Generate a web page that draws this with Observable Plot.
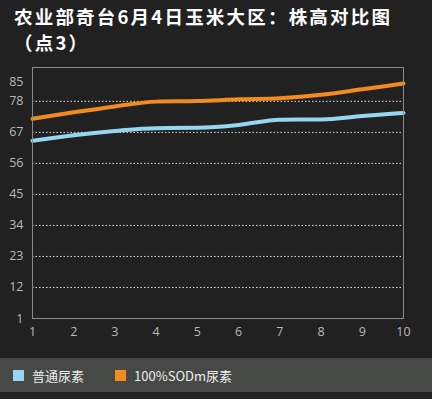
<!DOCTYPE html>
<html><head><meta charset="utf-8">
<script src="https://cdn.jsdelivr.net/npm/d3@7"></script>
<script src="https://cdn.jsdelivr.net/npm/@observablehq/plot@0.6"></script>
<style>
html,body{margin:0;padding:0;background:#212121;width:432px;height:399px;overflow:hidden;}
#title{height:55px;box-sizing:border-box;padding:4px 0 0 14px;color:#fff;font:bold 18.5px/27px "Noto Sans CJK SC",sans-serif;letter-spacing:2.2px;}
#title div{height:24px;line-height:24px;}
#legend{height:34px;background:#464946;display:flex;align-items:center;font:13px "Noto Sans CJK SC",sans-serif;color:#eee;}
.sw{display:inline-block;width:11px;height:11px;margin:0 8px 0 0;}
.item{display:flex;align-items:center;}
svg{display:block;}
</style></head>
<body>
<div id="title"><div>农业部奇台6月4日玉米大区：株高对比图</div><div style="margin-top:2px">（点3）</div></div>
<div id="chart"></div>
<div id="legend"></div>
<script>
const xs = [1,2,3,4,5,6,7,8,9,10];
const seriesNames = ["普通尿素","100%SODm尿素"];
const seriesColors = ["#95d6f0","#f28c1e"];
const blueVals = [64,66,67.5,68.5,68.6,69.6,71.5,71.6,72.8,73.9];
const orangeVals = [71.8,74.1,76.2,77.9,78.1,78.7,79.1,80.3,82.3,84.3];
const yTicks = [1,12,23,34,45,56,67,78,85];
const gridTicks = [12,23,34,45,56,67,78];

const data = [];
xs.forEach((x,i)=>{
  data.push({x, y: blueVals[i], s: seriesNames[0]});
  data.push({x, y: orangeVals[i], s: seriesNames[1]});
});

const plot = Plot.plot({
  width: 432, height: 303,
  marginLeft: 32, marginRight: 29, marginTop: 12, marginBottom: 40,
  style: {background: "#212121", color: "#b8b8b8", fontFamily: "'Open Sans', sans-serif", fontSize: "12.5px"},
  x: {domain: [1,10], ticks: xs, tickFormat: d => d, tickSize: 0, tickPadding: 9, label: null},
  y: {domain: [1,90], ticks: yTicks, tickFormat: d => d, tickSize: 0, tickPadding: 9, label: null},
  color: {domain: seriesNames, range: seriesColors},
  marks: [
    Plot.ruleY(gridTicks, {stroke: "#e0e0e0", strokeDasharray: "1.5,2", strokeWidth: 1}),
    Plot.line(data, {x: "x", y: "y", z: "s", stroke: "s", strokeWidth: 4, curve: "monotone-x"}),
    Plot.frame({stroke: "#8a8a8a", strokeWidth: 1})
  ]
});
document.getElementById("chart").appendChild(plot);

const leg = document.getElementById("legend");
seriesNames.forEach((n,i)=>{
  const it = document.createElement("div");
  it.className = "item";
  it.style.marginLeft = i === 0 ? "13px" : "31px";
  it.innerHTML = `<span class="sw" style="background:${seriesColors[i]}"></span><span>${n}</span>`;
  leg.appendChild(it);
});
</script>
</body></html>
